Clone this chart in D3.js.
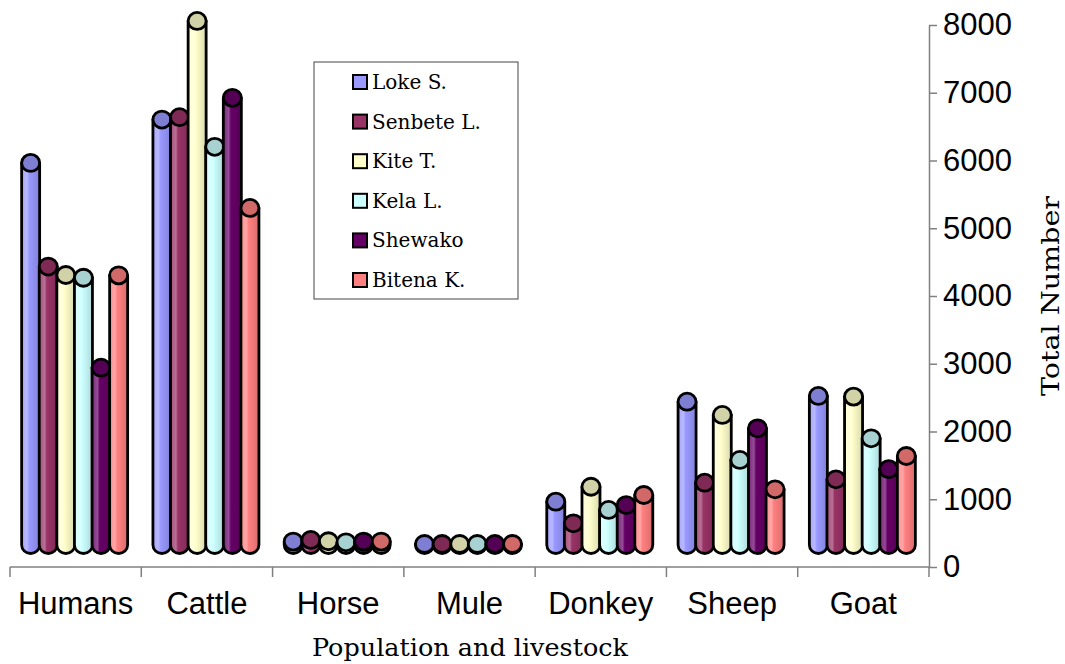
<!DOCTYPE html>
<html>
<head>
<meta charset="utf-8">
<script src="https://cdn.jsdelivr.net/npm/d3@7"></script>
<style>
  body { margin: 0; background: #fff; }
  svg { display: block; }
</style>
</head>
<body>
<div id="chart"></div>
<script>
// categories and series
const categories = ["Humans", "Cattle", "Horse", "Mule", "Donkey", "Sheep", "Goat"];
const seriesNames = ["Loke S.", "Senbete L.", "Kite T.", "Kela L.", "Shewako", "Bitena K."];

// values per series, in category order
const lokeS    = [5640, 6280, 50, 15, 640, 2115, 2200];
const senbeteL = [4110, 6315, 75, 15, 320,  920,  970];
const kiteT    = [3985, 7735, 55, 15, 860, 1920, 2190];
const kelaL    = [3945, 5877, 40, 15, 517, 1255, 1575];
const shewako  = [2617, 6600, 50, 15, 590, 1722, 1120];
const bitenaK  = [3980, 4975, 50, 15, 738,  822, 1314];
const seriesValues = [lokeS, senbeteL, kiteT, kelaL, shewako, bitenaK];

const bodyColors = ["#9999ff", "#993366", "#ffffcc", "#ccffff", "#660066", "#ff8080"];
const yTicks = [0, 1000, 2000, 3000, 4000, 5000, 6000, 7000, 8000];

const width = 1065, height = 664;
const svg = d3.select("#chart").append("svg")
  .attr("width", width)
  .attr("height", height);

const x = d3.scaleBand().domain(categories).range([10, 929]).padding(0);
const xs = d3.scaleBand().domain(seriesNames).range([-52.8, 52.8]).padding(0);
const y = d3.scaleLinear().domain([0, 8000]).range([567, 25]);

const depth = 22;        // 3D floor offset
const rx = 9, ry = 8.5;  // cylinder ellipse

// gradients for the cylinder bodies
const defs = svg.append("defs");
bodyColors.forEach((c, i) => {
  const base = d3.color(c);
  const g = defs.append("linearGradient")
    .attr("id", "grad" + i)
    .attr("x1", "0%").attr("x2", "100%").attr("y1", "0%").attr("y2", "0%");
  g.append("stop").attr("offset", "0%").attr("stop-color", d3.interpolateRgb(c, "#fff")(0.15));
  g.append("stop").attr("offset", "30%").attr("stop-color", d3.interpolateRgb(c, "#fff")(0.3));
  g.append("stop").attr("offset", "42%").attr("stop-color", c);
  g.append("stop").attr("offset", "100%").attr("stop-color", base.darker(0.45));
});

// bars
const baseY = y(0) - depth;
categories.forEach((cat, ci) => {
  seriesNames.forEach((s, si) => {
    const v = seriesValues[si][ci];
    const cx = x(cat) + x.bandwidth() / 2 + xs(s) + xs.bandwidth() / 2 - 1;
    const topY = Math.min(y(v) - depth, baseY);
    const g = svg.append("g");
    g.append("path")
      .attr("d", `M${cx - rx},${topY} L${cx - rx},${baseY} A${rx},${ry} 0 0 0 ${cx + rx},${baseY} L${cx + rx},${topY} Z`)
      .attr("fill", `url(#grad${si})`)
      .attr("stroke", "#000")
      .attr("stroke-width", 2.8)
      .attr("stroke-linejoin", "round");
    g.append("ellipse")
      .attr("cx", cx).attr("cy", topY)
      .attr("rx", rx).attr("ry", ry)
      .attr("fill", d3.color(bodyColors[si]).darker(0.55))
      .attr("stroke", "#000")
      .attr("stroke-width", 2.8);
  });
});

// x axis
const axisColor = "#808080";
svg.append("line")
  .attr("x1", 10).attr("x2", 929).attr("y1", 567).attr("y2", 567)
  .attr("stroke", axisColor).attr("stroke-width", 1.5);
const bounds = categories.map(c => x(c)).concat([x.range()[1]]);
svg.selectAll("line.xtick").data(bounds).enter().append("line")
  .attr("class", "xtick")
  .attr("x1", d => d).attr("x2", d => d)
  .attr("y1", 567).attr("y2", 577)
  .attr("stroke", axisColor).attr("stroke-width", 1.5);
svg.selectAll("text.cat").data(categories).enter().append("text")
  .attr("class", "cat")
  .attr("x", d => x(d) + x.bandwidth() / 2)
  .attr("y", 614)
  .attr("text-anchor", "middle")
  .style("font-family", "'Liberation Sans', Arial, sans-serif")
  .style("font-size", "31px")
  .text(d => d);

// y axis on the right
const yAxis = svg.append("g")
  .attr("transform", "translate(929,0)")
  .call(d3.axisRight(y).tickValues(yTicks).tickFormat(d3.format("d"))
    .tickSize(8).tickSizeOuter(0).tickPadding(6));
yAxis.select(".domain").attr("stroke", axisColor).attr("stroke-width", 1.5);
yAxis.selectAll(".tick line").attr("stroke", axisColor).attr("stroke-width", 1.5);
yAxis.selectAll(".tick text")
  .style("font-family", "'Liberation Sans', Arial, sans-serif")
  .style("font-size", "31px")
  .attr("fill", "#000");

// axis titles
const serif = "'DejaVu Serif', 'Liberation Serif', serif";
svg.append("text")
  .attr("x", 470).attr("y", 656)
  .attr("text-anchor", "middle")
  .attr("textLength", 316).attr("lengthAdjust", "spacingAndGlyphs")
  .style("font-family", serif).style("font-size", "24px")
  .text("Population and livestock");
svg.append("text")
  .attr("transform", "translate(1059,296) rotate(-90)")
  .attr("text-anchor", "middle")
  .attr("textLength", 200).attr("lengthAdjust", "spacingAndGlyphs")
  .style("font-family", serif).style("font-size", "24px")
  .text("Total Number");

// legend
const legend = svg.append("g");
legend.append("rect")
  .attr("x", 314).attr("y", 62).attr("width", 204).attr("height", 237)
  .attr("fill", "#fff").attr("stroke", "#444").attr("stroke-width", 1);
const rowY = d3.scalePoint().domain(seriesNames).range([82, 280]);
seriesNames.forEach((s, i) => {
  legend.append("rect")
    .attr("x", 353).attr("y", rowY(s) - 7)
    .attr("width", 14).attr("height", 14)
    .attr("fill", bodyColors[i]).attr("stroke", "#000").attr("stroke-width", 2);
  legend.append("text")
    .attr("x", 372).attr("y", rowY(s) + 7)
    .style("font-family", serif).style("font-size", "20px")
    .text(s);
});
</script>
</body>
</html>
